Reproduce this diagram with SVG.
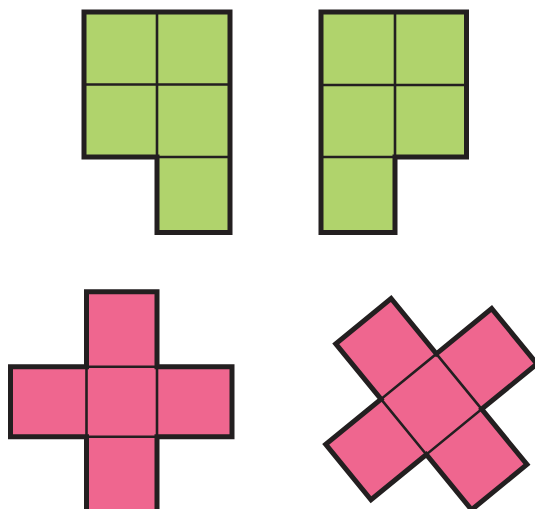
<svg xmlns="http://www.w3.org/2000/svg" width="535" height="509" viewBox="0 0 535 509">
<style>
.g{fill:#b0d36c}
.p{fill:#ef668f}
.in{fill:none;stroke:#231f20;stroke-width:2.6}
.out{fill:none;stroke:#231f20;stroke-width:5;stroke-linejoin:miter;stroke-miterlimit:10}
</style>
<rect width="535" height="509" fill="#ffffff"/>
<g id="shape1">
<path class="g" d="M84,12 H230 V232.5 H157 V157 H84 Z"/>
<path class="in" d="M157,12 V157 M84,84.5 H230 M157,157 H230"/>
<path class="out" d="M84,12 H230 V232.5 H157 V157 H84 Z"/>
</g>
<g id="shape2">
<path class="g" d="M321,12 H466.5 V157 H395 V232.5 H321 Z"/>
<path class="in" d="M395,12 V157 M321,85 H466.5 M321,157 H395"/>
<path class="out" d="M321,12 H466.5 V157 H395 V232.5 H321 Z"/>
</g>
<g id="shape3">
<path class="p" d="M86.5,291.7 H157 V366.8 H232 V436.8 H157 V515 H86.5 V436.8 H10.5 V366.8 H86.5 Z"/>
<path class="in" d="M86.5,366.8 H157 V436.8 H86.5 Z"/>
<path class="out" d="M86.5,291.7 H157 V366.8 H232 V436.8 H157 V515 H86.5 V436.8 H10.5 V366.8 H86.5 Z"/>
</g>
<g id="shape4" transform="translate(431.35,404.15) rotate(50.7)">
<path class="p" d="M-35.75,-107.25 H35.75 V-35.75 H107.25 V35.75 H35.75 V107.25 H-35.75 V35.75 H-107.25 V-35.75 H-35.75 Z"/>
<path class="in" d="M-35.75,-35.75 H35.75 V35.75 H-35.75 Z"/>
<path class="out" d="M-35.75,-107.25 H35.75 V-35.75 H107.25 V35.75 H35.75 V107.25 H-35.75 V35.75 H-107.25 V-35.75 H-35.75 Z"/>
</g>
<g id="connectors"></g>
</svg>
